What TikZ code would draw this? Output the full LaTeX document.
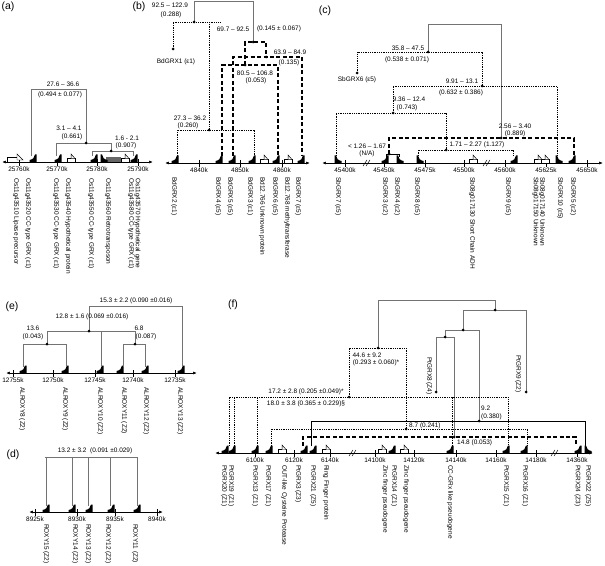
\documentclass[tikz,border=0pt]{standalone}
\usepackage{fontspec}
\setmainfont{Liberation Sans}
\usetikzlibrary{arrows.meta}
\tikzset{
 gl/.style={draw=black!55, line width=0.9},
 sl/.style={draw=black, line width=0.9},
 dl/.style={draw=black, line width=0.9, dash pattern=on 0.9pt off 0.9pt},
 dsh/.style={draw=black, line width=1.1, dash pattern=on 4pt off 2.5pt},
 ax/.style={draw=black, line width=0.7, {Latex[length=4pt,width=3pt]}-{Latex[length=4pt,width=3pt]}},
 tk/.style={draw=black, line width=0.5},
 num/.style={font=\fontsize{6.5}{7}\selectfont, inner sep=0},
 lab/.style={font=\fontsize{6.5}{7}\selectfont, inner sep=0, rotate=-90, anchor=west},
 ttl/.style={font=\fontsize{10.5}{12}\selectfont, inner sep=0},
 grxR/.pic={\fill[black] (-3.5,0.5) -- (-3.5,-2) .. controls (0,-2.5) and (1.5,-4.5) .. (2,-7.5) -- (3.5,-7.5) -- (3.5,0.5) -- cycle;},
 grxL/.pic={\fill[black] (3.5,0.5) -- (3.5,-2) .. controls (0,-2.5) and (-1.5,-4.5) .. (-2,-7.5) -- (-3.5,-7.5) -- (-3.5,0.5) -- cycle;},
 opn/.pic={\draw[fill=white,line width=0.5] (-4,0) rectangle (4,-3.5); \draw[fill=white,line width=0.5] (0,-3.5) -- (0,-8) -- (4,-3.5);},
}
\newcommand\dt[2]{\fill (#1,#2) circle (1.5);}
\newcommand\tck[4]{\draw[tk] (#1,#2-3) -- (#1,#2+4); \node[num] (#4) at (#1,#2+7.5) {#3};}
\newcommand\brk[2]{\draw[line width=0.5] (#1-4,#2+3) -- (#1,#2-3); \draw[line width=0.5] (#1-1,#2+3) -- (#1+3,#2-3);}
\begin{document}
\begin{tikzpicture}[x=1bp,y=-1bp]
\useasboundingbox (0,0) rectangle (605,566);
% ================= (a)
\node[ttl] (ta) at (8,7) {(a)};
\draw[ax] (2,162) -- (153,162);
\tck{19}{162}{25760k}{ka1}\tck{57}{162}{25770k}{ka2}\tck{97}{162}{25780k}{ka3}\tck{138}{162}{25790k}{ka4}
\draw[fill=white,line width=0.5] (7,162) rectangle (19,157);
\draw[fill=white,line width=0.5] (17,160) -- (17,154) -- (23,160) -- cycle;
\pic at (33,162) {grxR};
\pic at (58,162) {grxR};
\pic at (71,162) {opn};
\pic at (94,162) {grxR};
\fill[black!60] (106,157.5) rectangle (121,162);
\pic at (104,162) {grxL};
\pic at (125,162) {opn};
\pic at (134,162) {grxR};
\draw[gl] (31,156) -- (31,89) -- (86,89) -- (86,143);
\draw[gl] (56,156) -- (56,143) -- (111,143) -- (111,151);
\draw[gl] (92,156) -- (92,151) -- (133,151) -- (133,156);
\dt{86}{143}\dt{111}{151}
\node[num] (a1) at (63,84) {27.6 – 36.6};
\node[num] (a2) at (60,95) {(0.494 ± 0.077)};
\node[num] (a3) at (69,128) {3.1 – 4.1};
\node[num] (a4) at (72,137) {(0.661)};
\node[num] (a5) at (127,138) {1.6 - 2.1};
\node[num] (a6) at (126,146) {(0.907)};
\node[lab] (la1) at (16,178) {Os11g43510 Lipase precursor};
\node[lab] (la2) at (28,178) {Os11g43520 CC-type GRX (ε1)};
\node[lab] (la3) at (56,178) {Os11g43530 CC-type GRX (ε1)};
\node[lab] (la4) at (68,178) {Os11g43540 Hypothetical protein};
\node[lab] (la5) at (91,178) {Os11g43550 CC-type GRX (ε1)};
\node[lab] (la6) at (108,178) {Os11g43560 Retrotransposon};
\node[lab] (la7) at (131,178) {Os11g43580 CC-type GRX (ε1)};
\node[lab] (la8) at (137.5,178) {Os11g43570 Hypothetical gene};
% ================= (b)
\node[ttl] (tb) at (139,7) {(b)};
\draw[ax] (165,163) -- (310,163);
\tck{199}{163}{4840k}{kb1}\tck{240}{163}{4850k}{kb2}\tck{282}{163}{4860k}{kb3}
\pic at (175,163) {grxR};
\pic at (219,163) {grxR};
\pic at (232,163) {grxR};
\pic at (252,163) {grxR};
\pic at (264,163) {opn};
\pic at (276,163) {grxR};
\pic at (288,163) {opn};
\pic at (301,163) {grxR};
\draw[gl] (194,22) -- (194,1.5) -- (253,1.5) -- (253,42);
\draw[dl] (173,49) -- (173,22) -- (221,22);
\draw[dl] (209,22) -- (209,130);
\draw[dl] (177,156) -- (177,130) -- (254,130) -- (254,156);
\draw[dsh] (245,65) -- (245,42) -- (266,42) -- (266,57);
\draw[dsh] (222,156) -- (222,65) -- (278,65) -- (278,156);
\draw[dsh] (233,156) -- (233,57) -- (302,57) -- (302,156);
\dt{194}{22}\dt{173}{49}\dt{209}{130}\dt{253}{42}\dt{245}{65}\dt{266}{57}
\node[num] (b1) at (170,5) {92.5 – 122.9};
\node[num] (b2) at (171,15) {(0.288)};
\node[num] (b3) at (176,62) {BdGRX1 (ε1)};
\node[num] (b4) at (233,29) {69.7 – 92.5};
\node[num] (b5) at (279,29) {(0.145 ± 0.067)};
\node[num] (b6) at (290,52) {63.9 – 84.9};
\node[num] (b7) at (289,63) {(0.135)};
\node[num] (b8) at (255,73) {80.5 – 106.8};
\node[num] (b9) at (256,81) {(0.053)};
\node[num] (b10) at (190,118) {27.3 – 36.2};
\node[num] (b11) at (188,126) {(0.260)};
\node[lab] (lb1) at (174,177) {BdGRX2 (ε1)};
\node[lab] (lb2) at (218,177) {BdGRX4 (ε5)};
\node[lab] (lb3) at (230,177) {BdGRX5 (ε5)};
\node[lab] (lb4) at (250,177) {BdGRX3 (ε1)};
\node[lab] (lb5) at (262,177) {Bd12.766 Unknown protein};
\node[lab] (lb6) at (275,177) {BdGRX6 (ε5)};
\node[lab] (lb7) at (287,177) {Bd12.768 methyltransferase};
\node[lab] (lb8) at (298,177) {BdGRX7 (ε5)};
% ================= (c)
\node[ttl] (tc) at (325,11) {(c)};
\draw[ax] (322,163) -- (603,163);
\tck{345}{163}{45400k}{kc1}\tck{384}{163}{45450k}{kc2}\tck{425}{163}{45475k}{kc3}\tck{464}{163}{45500k}{kc4}
\tck{505}{163}{45600k}{kc5}\tck{546}{163}{45625k}{kc6}\tck{587}{163}{45650k}{kc7}
\brk{367}{163}\brk{487}{163}
\pic at (338,163) {grxL};
\pic at (385,163) {grxR};
\pic at (400,163) {grxL};
\pic at (420,163) {grxL};
\pic at (473,163) {opn};
\pic at (514,163) {grxR};
\pic at (538,163) {opn};
\pic at (545,163) {opn};
\pic at (559,163) {grxL};
\pic at (572,163) {grxR};
\draw[gl] (428,52) -- (428,24) -- (501,24) -- (501,138);
\draw[dl] (357,73) -- (357,52) -- (482,52) -- (482,86);
\draw[dl] (393,113) -- (393,86) -- (557,86) -- (557,156);
\draw[dl] (336,156) -- (336,113) -- (446,113) -- (446,150);
\draw[dl] (418,156) -- (418,150) -- (513,150) -- (513,156);
\draw[dsh] (389,154) -- (389,138) -- (574,138) -- (574,156);
\draw[sl] (386,157) -- (386,154) -- (399,154) -- (399,157);
\dt{428}{52}\dt{357}{73}\dt{482}{86}\dt{393}{113}\dt{446}{150}\dt{501}{138}\dt{389}{154}
\node[num] (c1) at (408,48) {35.8 – 47.5};
\node[num] (c2) at (407,60) {(0.538 ± 0.071)};
\node[num] (c3) at (357,80) {SbGRX6 (ε5)};
\node[num] (c4) at (462,81) {9.91 – 13.1};
\node[num] (c5) at (461,93) {(0.632 ± 0.386)};
\node[num] (c6) at (409,99) {9.36 – 12.4};
\node[num] (c7) at (407,108) {(0.743)};
\node[num] (c8) at (367,146) {< 1.26 – 1.67};
\node[num] (c9) at (367,154) {(N/A)};
\node[num] (c10) at (477,145) {1.71 – 2.27 (1.127)};
\node[num] (c11) at (515,126) {2.56 – 3.40};
\node[num] (c12) at (515,134) {(0.889)};
\node[lab] (lc1) at (338,177) {SbGRX7 (ε5)};
\node[lab] (lc2) at (385,177) {SbGRX3 (ε2)};
\node[lab] (lc3) at (397,177) {SbGRX4 (ε2)};
\node[lab] (lc4) at (417,177) {SbGRX8 (ε5)};
\node[lab] (lc5) at (472,177) {Sb08g017130 Short Chain ADH};
\node[lab] (lc6) at (508,177) {SbGRX9 (ε5)};
\node[lab] (lc7) at (535.5,177) {Sb08g017150 Unknown};
\node[lab] (lc8) at (542,177) {Sb08g017140 Unknown};
\node[lab] (lc9) at (560,177) {SbGRX10 (ε5)};
\node[lab] (lc10) at (573,177) {SbGRX5 (ε2)};
% ================= (e)
\node[ttl] (te) at (12,307) {(e)};
\draw[ax] (6,373) -- (197,373);
\tck{13}{373}{12755k}{ke1}\tck{53}{373}{12750k}{ke2}\tck{95}{373}{12745k}{ke3}\tck{133}{373}{12740k}{ke4}\tck{175}{373}{12735k}{ke5}
\pic at (23,373) {grxR};
\pic at (65,373) {grxR};
\pic at (100,373) {grxR};
\pic at (120,373) {grxR};
\pic at (145,373) {grxR};
\pic at (181,373) {grxR};
\draw[gl] (89,331) -- (89,306) -- (182,306) -- (182,367);
\draw[gl] (47,344) -- (47,331) -- (135,331) -- (135,344);
\draw[gl] (101,331) -- (101,367);
\draw[gl] (23,367) -- (23,344) -- (66,344) -- (66,367);
\draw[gl] (123,367) -- (123,344) -- (145,344) -- (145,367);
\dt{89}{331}\dt{47}{344}\dt{135}{344}
\node[num] (e1) at (136,301) {15.3 ± 2.2 (0.090 ±0.016)};
\node[num] (e2) at (92,317) {12.8 ± 1.6 (0.069 ±0.016)};
\node[num] (e3) at (33,328) {13.6};
\node[num] (e4) at (33,337) {(0.043)};
\node[num] (e5) at (139,328) {6.8};
\node[num] (e6) at (146,337) {(0.087)};
\node[lab] (le1) at (22,387) {ALROXY8 (Z2)};
\node[lab] (le2) at (65,387) {ALROXY9 (Z2)};
\node[lab] (le3) at (100,387) {ALROXY10 (Z2)};
\node[lab] (le4) at (124,387) {ALROXY11 (Z2)};
\node[lab] (le5) at (146,387) {ALROXY12 (Z2)};
\node[lab] (le6) at (180,387) {ALROXY13 (Z2)};
% ================= (d)
\node[ttl] (td) at (13,455) {(d)};
\draw[ax] (29,512) -- (163,512);
\tck{35}{512}{8925k}{kd1}\tck{77}{512}{8930k}{kd2}\tck{115}{512}{8935k}{kd3}\tck{157}{512}{8940k}{kd4}
\pic at (46,512) {grxR};
\pic at (72,512) {grxR};
\pic at (89,512) {grxR};
\pic at (111,512) {grxR};
\pic at (137,512) {grxR};
\draw[gl] (45,457) -- (137,457);
\foreach \xx in {46,72,88,110,137} {\draw[gl] (\xx,457) -- (\xx,506);}
\node[num] (d1) at (95,451) {13.2 ± 3.2 \ (0.091 ±0.029)};
\node[lab] (ld1) at (46,524) {ROXY15 (Z2)};
\node[lab] (ld2) at (75,524) {ROXY14 (Z2)};
\node[lab] (ld3) at (88,524) {ROXY13 (Z2)};
\node[lab] (ld4) at (108,524) {ROXY12 (Z2)};
\node[lab] (ld5) at (135,524) {ROXY11 (Z2)};
% ================= (f)
\node[ttl] (tf) at (233,305) {(f)};
\draw[ax] (215,453) -- (593,453);
\tck{255}{453}{6100k}{kf1}\tck{294}{453}{6120k}{kf2}\tck{330}{453}{6140k}{kf3}\tck{375}{453}{14100k}{kf4}
\tck{414}{453}{14120k}{kf5}\tck{456}{453}{14140k}{kf6}\tck{496}{453}{14160k}{kf7}\tck{536}{453}{14180k}{kf8}\tck{577}{453}{14360k}{kf9}
\brk{353}{453}\brk{555}{453}
\pic at (225,453) {grxR};
\pic at (232,453) {grxR};
\pic at (255,453) {grxR};
\pic at (269,453) {grxR};
\pic at (282,453) {opn};
\pic at (304,453) {grxR};
\pic at (313,453) {grxR};
\pic at (326,453) {opn};
\pic at (382,453) {opn};
\pic at (392,453) {grxR};
\pic at (404,453) {opn};
\pic at (450,453) {grxR};
\pic at (506,453) {grxR};
\pic at (524,453) {grxR};
\pic at (578,453) {grxR};
\pic at (588,453) {grxL};
\draw[gl] (378,348) -- (378,300) -- (495,300) -- (495,310);
\draw[gl] (463,330) -- (463,310) -- (526,310) -- (526,392);
\draw[gl] (445,337) -- (445,330) -- (479,330) -- (479,421);
\draw[gl] (436,392) -- (436,337) -- (454,337) -- (454,437);
\draw[dl] (349,397) -- (349,348) -- (406,348) -- (406,429);
\draw[dl] (229,446) -- (229,397) -- (508,397) -- (508,446);
\draw[dl] (234,446) -- (234,397);
\draw[dl] (257,446) -- (257,397);
\draw[dl] (452,446) -- (452,397);
\draw[sl] (311,446) -- (311,421) -- (585,421) -- (585,446);
\draw[dl] (271,446) -- (271,429) -- (527,429) -- (527,446);
\draw[dsh] (303,446) -- (303,437) -- (576,437) -- (576,446);
\dt{495}{310}\dt{526}{392}\dt{463}{330}\dt{445}{337}\dt{436}{392}\dt{378}{348}
\dt{349}{397}\dt{479}{421}\dt{406}{429}\dt{454}{437}
\node[num] (f1) at (367,355) {44.6 ± 9.2};
\node[num] (f2) at (376,363) {(0.293 ± 0.060)*};
\node[num] (f3) at (306,392) {17.2 ± 2.8 (0.205 ±0.049)*};
\node[num] (f4) at (306,404) {18.0 ± 3.8 (0.365 ± 0.229)§};
\node[num,anchor=west] (f5) at (481,408) {9.2};
\node[num,anchor=west] (f6) at (481,417) {(0.380)};
\node[num,anchor=west] (f7) at (409,426) {8.7 (0.241)};
\node[num,anchor=west] (f8) at (457,443) {14.8 (0.053)};
\node[lab] (lf0a) at (429,357) {PtGRX8 (Z4)};
\node[lab] (lf0b) at (518,355) {PtGRX9 (Z2)};
\node[lab] (lf1) at (224,465) {PtGRX20 (Z1)};
\node[lab] (lf2) at (231,465) {PtGRX19 (Z1)};
\node[lab] (lf3) at (255,465) {PtGRX13 (Z1)};
\node[lab] (lf4) at (268,465) {PtGRX17 (Z1)};
\node[lab] (lf5) at (284,465) {OUT-like Cysteine Protease};
\node[lab] (lf6) at (298,465) {PtGRX3 (Z3)};
\node[lab] (lf7) at (313,465) {PtGRX21 (Z5)};
\node[lab] (lf8) at (326,465) {Ring Finger protein};
\node[lab] (lf9) at (385,465) {Zinc finger pseudogene};
\node[lab] (lf10) at (394,465) {PtGRX14 (Z1)};
\node[lab] (lf11) at (406,465) {Zinc finger pseudogene};
\node[lab] (lf12) at (450,465) {CC-GRx like pseudogene};
\node[lab] (lf13) at (506,465) {PtGRX15 (Z1)};
\node[lab] (lf14) at (525,465) {PtGRX16 (Z1)};
\node[lab] (lf15) at (577.5,465) {PtGRX24 (Z3)};
\node[lab] (lf16) at (588,465) {PtGRX22 (Z5)};
\end{tikzpicture}
\end{document}
